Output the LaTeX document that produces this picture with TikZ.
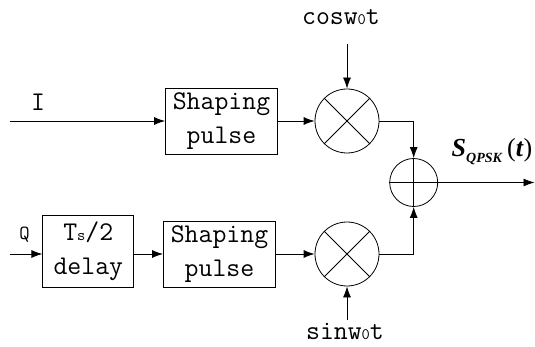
\documentclass[tikz,border=0pt]{standalone}
\usepackage{fontspec}
\newfontfamily\tnrfont{Liberation Serif}
\usetikzlibrary{arrows.meta}
\tikzset{
  blk/.style={draw, line width=0.8pt, minimum width=112pt, minimum height=66pt,
    inner sep=0pt, align=center, font=\ttfamily\fontsize{27}{34}\selectfont},
  mult/.style={draw, circle, minimum size=64pt, inner sep=0pt, line width=0.8pt},
  adder/.style={draw, circle, minimum size=48pt, inner sep=0pt, line width=0.8pt},
  lbl/.style={inner sep=0pt, font=\ttfamily\fontsize{27}{30}\selectfont},
  arr/.style={line width=0.8pt, -{Latex[length=11pt,width=8pt]}},
  ln/.style={line width=0.8pt}
}
\newcommand{\smallsub}[1]{{\fontsize{16}{16}\selectfont #1}}
\begin{document}
\begin{tikzpicture}[x=1pt,y=-1pt]
\useasboundingbox (0,0) rectangle (535,347);
% blocks
\node[blk] (sp1) at (221.5,121) {Shaping\\pulse};
\node[blk] (sp2) at (219.5,254) {Shaping\\pulse};
\node[blk, minimum width=91pt, minimum height=72pt] (dl) at (88.3,251) {T\smallsub{s}/2\\delay};
\node[mult] (m1) at (347,121) {};
\node[mult] (m2) at (347,254) {};
\node[adder] (add) at (413.7,182.5) {};
\draw[ln] (m1.north west) -- (m1.south east) (m1.north east) -- (m1.south west);
\draw[ln] (m2.north west) -- (m2.south east) (m2.north east) -- (m2.south west);
\draw[ln] (add.north) -- (add.south) (add.west) -- (add.east);
% labels
\node[lbl] (ilbl) at (38,102) {I};
\node[lbl, font=\ttfamily\fontsize{20}{24}\selectfont] (qlbl) at (24.6,235) {Q};
\node[lbl] (coslbl) at (341,17) {cosw\smallsub{0}t};
\node[lbl, anchor=base] (sinlbl) at (345,339) {sinw\smallsub{0}t};
\node[inner sep=0pt, font=\tnrfont\fontsize{26}{30}\selectfont] (slbl) at (492,152)
  {\textbf{\textit{S}}\raisebox{-6pt}{\fontsize{14}{14}\selectfont\textbf{\textit{QPSK}}}\,(\textbf{\textit{t}})};
% inputs
\coordinate (iin) at (9.5,121);
\coordinate (qin) at (9.5,254);
\coordinate (cin) at (347,44);
\coordinate (sinin) at (347,320);
\coordinate (out) at (534.5,182.5);
% connectors
\draw[arr] (iin) -- (sp1);
\draw[arr] (qin) -- (qin -| dl.west);
\draw[arr] (dl.east |- sp2) -- (sp2);
\draw[arr] (sp1) -- (m1);
\draw[arr] (sp2) -- (m2);
\draw[arr] (cin) -- (m1);
\draw[arr] (sinin) -- (m2);
\draw[arr] (m1.east) -| (add.north);
\draw[arr] (m2.east) -| (add.south);
\draw[arr] (add.east) -- (out);
\end{tikzpicture}
\end{document}
